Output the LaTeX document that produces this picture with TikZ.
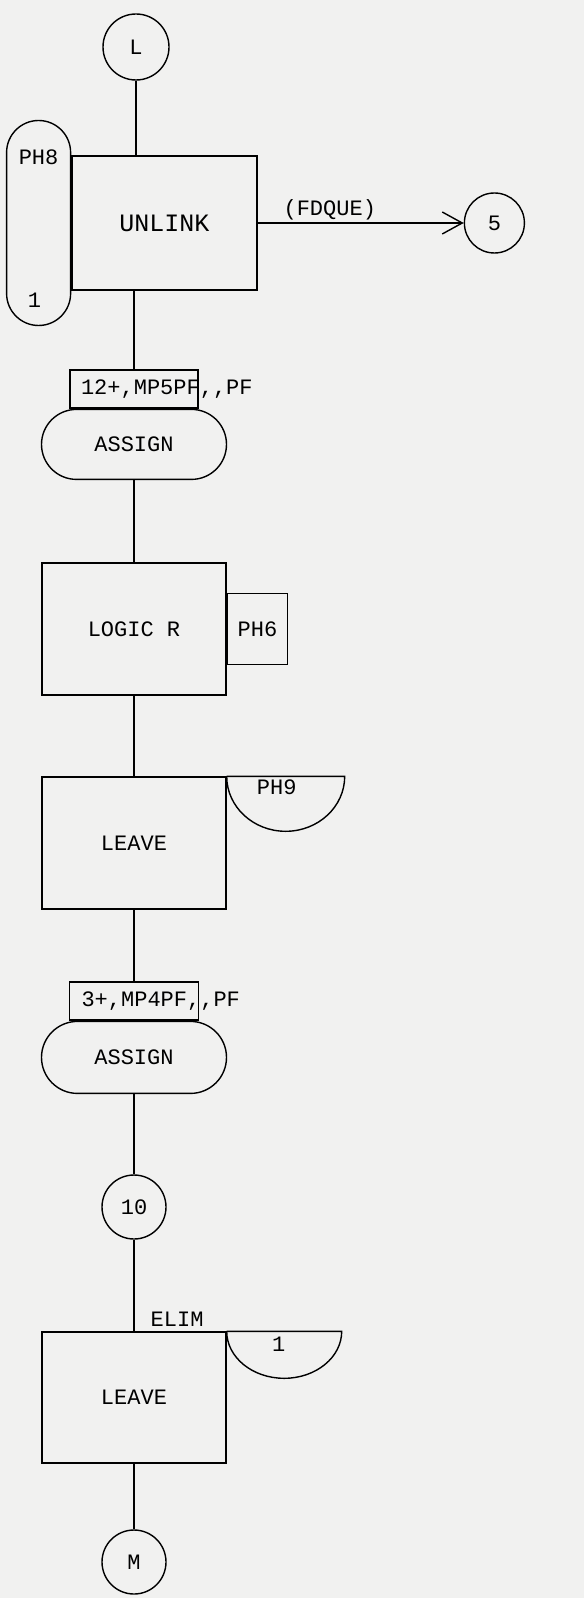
\documentclass[tikz,border=0pt]{standalone}
\usepackage{fontspec}
\setmonofont{Liberation Mono}
\usepackage{tikz}
\usetikzlibrary{arrows.meta, positioning}
\definecolor{papel}{RGB}{241,241,240}

\begin{document}
\begin{tikzpicture}[
            font=\ttfamily\fontsize{11}{13}\selectfont,
            line width=0.7pt,
            conector/.style={
                draw, circle, minimum size=32pt, inner sep=0pt
            },
            bloco/.style={
                draw, rectangle, minimum width=92pt, minimum height=66pt, inner sep=0pt
            },
            pilula/.style={
                draw, rectangle, rounded corners=16pt,
                minimum width=32pt, minimum height=102.5pt, inner sep=0pt
            },
            estadio/.style={
                draw, rectangle, rounded corners=17.5pt,
                minimum width=92.5pt, minimum height=35pt, inner sep=0pt
            },
            param/.style={
                draw, rectangle, minimum width=64pt, minimum height=19pt, inner sep=0pt
            },
            seta/.style={-{Straight Barb[length=10pt, width=11pt]}}
        ]
            \fill[papel] (0,0) rectangle (292pt,-799pt);
            \useasboundingbox (0,0) rectangle (292pt,-799pt);

            % --- Entrada L e UNLINK ---
            \node[conector, minimum size=33pt] (L) at (68pt,-23.5pt) {L};
            \node[bloco, minimum width=92.5pt, minimum height=67pt, font=\ttfamily\fontsize{12.5}{14}\selectfont] (unlink) at (82.25pt,-111.5pt) {UNLINK};
            \node[pilula, left=0pt of unlink] (pilula) {};
            \node (ph8) at ([yshift=-18.5pt]pilula.north) {PH8};
            \node (um8) at ([xshift=-2pt, yshift=13pt]pilula.south) {1};
            \node[conector, minimum size=30pt, right=103pt of unlink] (c5) {5};
            \draw (L) -- (L |- unlink.north);
            \draw[seta] (unlink) -- node[above, pos=0.35, inner sep=1pt] (fdque) {(FDQUE)} (c5);

            % --- ASSIGN 1 ---
            \node[param] (param1) at (67pt,-194.5pt) {};
            \node[anchor=west, inner sep=0pt] (p1txt) at ([xshift=5.5pt]param1.west) {12+,MP5PF,,PF};
            \node[estadio, below=0pt of param1] (assign1) {ASSIGN};
            \draw (unlink.south -| param1) -- (param1);

            % --- LOGIC R ---
            \node[bloco] (logic) at (67pt,-314.5pt) {LOGIC R};
            \node[draw, minimum width=30pt, minimum height=35.5pt, inner sep=0pt, right=0pt of logic] (ph6) {PH6};
            \draw (assign1) -- (logic);

            % --- LEAVE 1 ---
            \node[bloco] (leave1) at (67pt,-421.5pt) {LEAVE};
            \draw (leave1.north east) -- ++(59pt,0) arc[start angle=0, end angle=-180, x radius=29.5pt, y radius=27.5pt];
            \node (ph9) at ([xshift=25pt, yshift=-5.5pt]leave1.north east) {PH9};
            \draw (logic) -- (leave1);

            % --- ASSIGN 2 ---
            \node[param, minimum width=64.5pt] (param2) at (67pt,-500.5pt) {};
            \node[anchor=west, inner sep=0pt] (p2txt) at ([xshift=6pt]param2.west) {3+,MP4PF,,PF};
            \node[estadio, minimum height=36pt, rounded corners=18pt, below=0pt of param2] (assign2) {ASSIGN};
            \draw (leave1) -- (param2);

            % --- 10 ---
            \node[conector] (c10) at (67pt,-603.5pt) {10};
            \draw (assign2) -- (c10);

            % --- LEAVE 2 ---
            \node[bloco, minimum height=65.5pt] (leave2) at (67pt,-698.75pt) {LEAVE};
            \node[anchor=south west, inner sep=2pt] (elim) at ([xshift=6pt]leave2.north) {ELIM};
            \draw (leave2.north east) -- ++(57.5pt,0) arc[start angle=0, end angle=-180, x radius=28.75pt, y radius=23.5pt];
            \node (um) at ([xshift=26pt, yshift=-6.5pt]leave2.north east) {1};
            \draw (c10) -- (leave2);

            % --- Saida M ---
            \node[conector] (M) at (67pt,-781pt) {M};
            \draw (leave2) -- (M);

        \end{tikzpicture}
\end{document}
